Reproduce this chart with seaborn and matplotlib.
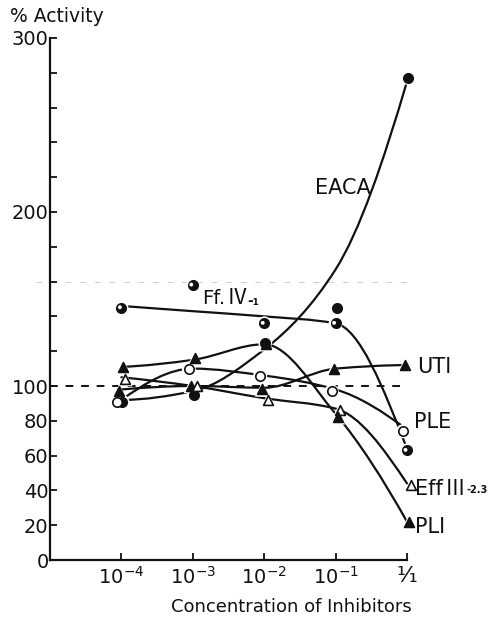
import numpy as np
import pandas as pd
import matplotlib
matplotlib.use("Agg")
import matplotlib.pyplot as plt
import matplotlib.transforms as mtrans
import seaborn as sns
from matplotlib.path import Path
from matplotlib.patches import PathPatch

# ---- data -------------------------------------------------------------
concentration = [1e-4, 1e-3, 1e-2, 1e-1, 1.0]
conc_labels = ["$10^{-4}$", "$10^{-3}$", "$10^{-2}$", "$10^{-1}$", "\u00b9\u2044\u2081"]

# measured activity (%) of each inhibitor at each concentration
eaca = [91, 95, 125, 145, 277]
ff_iv = [145, 158, 136, 136, 63]
uti = [97, 100, 98, 110, 112]
ple = [91, 110, 106, 97, 74]
eff_iii = [104, 100, 92, 86, 43]
pli = [111, 116, 124, 82, 22]

# hand-drawn trend curve of each inhibitor at the same concentrations
eaca_trend = [92, 97, 121, 167, 275]
ff_iv_trend = [146, 143, 140, 136, 64]
uti_trend = [98, 100, 99, 110, 112]
ple_trend = [92, 110, 106, 98, 75]
eff_iii_trend = [105, 100, 93, 87, 44]
pli_trend = [111, 115, 124, 84, 22]

y_ticks = list(range(0, 301, 20))
y_labelled = [0, 20, 40, 60, 80, 100, 200, 300]
control_level = 100

# ---- style ------------------------------------------------------------
sns.set_theme(style="ticks")
plt.rcParams["font.family"] = ["DejaVu Sans"]
plt.rcParams["mathtext.default"] = "regular"
INK = "#111111"

fig = plt.figure(figsize=(4.9, 6.19), dpi=100)
fig.patch.set_facecolor("white")
ax = fig.add_axes([50 / 490, 59 / 619, 357 / 490, 522 / 619])
ax.set_facecolor("white")
ax.set_xscale("log")
ax.set_xlim(1e-5, 1.0)
ax.set_ylim(0, 300)


def pchip_slopes(y):
    """Shape-preserving (Fritsch-Carlson) slopes for unit-spaced knots."""
    d = np.diff(y)
    m = np.zeros_like(y)
    for i in range(1, len(y) - 1):
        if d[i - 1] * d[i] > 0:
            m[i] = 2.0 / (1.0 / d[i - 1] + 1.0 / d[i])
    for i, (a, b) in ((0, (d[0], d[1])), (len(y) - 1, (d[-1], d[-2]))):
        s = (3 * a - b) / 2
        if np.sign(s) != np.sign(a):
            s = 0.0
        elif np.sign(a) != np.sign(b) and abs(s) > abs(3 * a):
            s = 3 * a
        m[i] = s
    return m


def trend_path(xs, ys):
    """Smooth monotone cubic through the trend values, as Bezier segments in log-x."""
    lx = np.log10(xs)
    y = np.asarray(ys, float)
    m = pchip_slopes(y)
    verts, codes = [(lx[0], y[0])], [Path.MOVETO]
    for i in range(len(y) - 1):
        h = lx[i + 1] - lx[i]
        verts += [(lx[i] + h / 3, y[i] + m[i] / 3),
                  (lx[i + 1] - h / 3, y[i + 1] - m[i + 1] / 3),
                  (lx[i + 1], y[i + 1])]
        codes += [Path.CURVE4] * 3
    verts = np.array(verts)
    verts[:, 0] = 10 ** verts[:, 0]
    return Path(verts, codes)


series = [
    # values, trend, marker, face, size, sideways dodge (px)
    (eaca, eaca_trend, "o", INK, 46, 1),
    (ff_iv, ff_iv_trend, "o", INK, 46, 0),
    (uti, uti_trend, "^", INK, 50, -2),
    (ple, ple_trend, "o", "white", 46, -4),
    (eff_iii, eff_iii_trend, "^", "white", 50, 4),
    (pli, pli_trend, "^", INK, 50, 2),
]

# reference level
ax.axhline(control_level, color=INK, lw=1.4, ls=(0, (4, 4)), zorder=1)
ax.axhline(160, xmin=-0.04, color="#cfcfcf", lw=0.7, ls=(0, (6, 9)), zorder=0,
           clip_on=False)

for vals, trend, mk, face, size, dodge in series:
    ax.add_patch(PathPatch(trend_path(concentration, trend), fill=False,
                           edgecolor=INK, lw=1.6, capstyle="round", zorder=2,
                           clip_on=False))

for vals, trend, mk, face, size, dodge in series:
    df = pd.DataFrame({"conc": concentration, "activity": vals})
    shift = mtrans.ScaledTranslation(dodge / 100, 0, fig.dpi_scale_trans)
    # white halo so the curves stop short of each symbol
    sns.scatterplot(data=df, x="conc", y="activity", marker=mk, s=size * 2.2,
                    color="white", edgecolor="none", ax=ax, zorder=3,
                    clip_on=False, legend=False)
    ax.collections[-1].set_offset_transform(ax.transData + shift)
    sns.scatterplot(data=df, x="conc", y="activity", marker=mk, s=size,
                    color=face, edgecolor=INK, linewidth=1.2, ax=ax,
                    zorder=4, clip_on=False, legend=False)
    ax.collections[-1].set_offset_transform(ax.transData + shift)

# light spot that marks the half-filled Ff.IV-1 symbol
ff_df = pd.DataFrame({"conc": concentration, "activity": ff_iv})
sns.scatterplot(data=ff_df, x="conc", y="activity", marker="o", s=8,
                color="white", edgecolor="none", ax=ax, zorder=5,
                clip_on=False, legend=False)
ax.collections[-1].set_offset_transform(
    ax.transData + mtrans.ScaledTranslation(-1.5 / 100, 0.5 / 100, fig.dpi_scale_trans))

# ---- axes ---------------------------------------------------------------
sns.despine(ax=ax)
for s in ("left", "bottom"):
    ax.spines[s].set_linewidth(1.6)
    ax.spines[s].set_color(INK)

ax.set_yticks(y_ticks)
ax.set_yticklabels([str(v) if v in y_labelled else "" for v in y_ticks])
ax.set_xticks(concentration)
ax.set_xticklabels(conc_labels)
ax.xaxis.set_minor_locator(matplotlib.ticker.NullLocator())
ax.tick_params(axis="both", direction="in", length=5, width=1.3, colors=INK,
               labelsize=14)
ax.tick_params(axis="x", pad=4, labelsize=14)
ax.tick_params(axis="y", pad=1)
ax.get_xticklabels()[-1].set_fontsize(16)
ax.set_xlabel("")
ax.set_ylabel("")

fig.text(10 / 490, 1 - 17 / 619, "% Activity", fontsize=13.5, color=INK,
         ha="left", va="center")
fig.text(291 / 490, 1 - 607 / 619, "Concentration of Inhibitors", fontsize=13,
         color=INK, ha="center", va="center")


# ---- curve labels ---------------------------------------------------------
def piece_label(x, y, pieces):
    prev = ax.text(x, y, pieces[0][0], transform=ax.transAxes, fontsize=pieces[0][1],
                   family=pieces[0][2], color=INK, ha="left", va="center",
                   clip_on=False)
    for text, size, family, weight, dx, dy in pieces[1:]:
        prev = ax.annotate(text, xy=(1, 0.5), xycoords=prev, xytext=(dx, dy),
                           textcoords="offset points", fontsize=size, family=family,
                           fontweight=weight, color=INK, ha="left", va="center",
                           annotation_clip=False)


def fx(px):
    return (px - 50) / 357


def fy(py):
    return (560 - py) / 522


piece_label(fx(315), fy(188), [("EACA", 15, "DejaVu Sans")])
piece_label(fx(417), fy(367), [("UTI", 15, "DejaVu Sans")])
piece_label(fx(414), fy(422), [("PLE", 15, "DejaVu Sans")])
piece_label(fx(415), fy(527), [("PLI", 15, "DejaVu Sans")])
piece_label(fx(202), fy(298), [("Ff.", 14, "DejaVu Sans"),
                               ("\u2163", 15, ["Noto Sans CJK JP"], "normal", 1, 0),
                               ("-\u2081", 10, "DejaVu Sans", "bold", 0, -2)])
piece_label(fx(415), fy(489), [("Eff", 15, "DejaVu Sans"),
                               ("\u2162", 15, ["Noto Sans CJK JP"], "normal", 1, 0),
                               ("-2.3", 7, "DejaVu Sans", "bold", 1, -1)])

fig.savefig("out.png", dpi=100, facecolor="white")
